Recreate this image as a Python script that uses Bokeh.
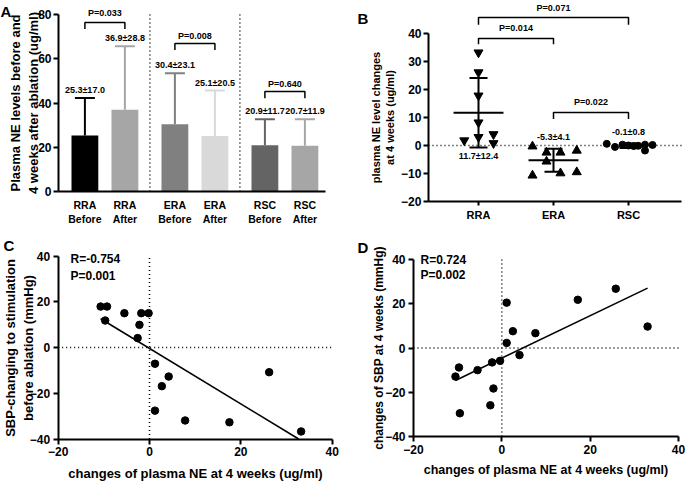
import numpy as np
from bokeh.plotting import figure
from bokeh.layouts import column, row
from bokeh.models import FixedTicker, Range1d
from bokeh.embed import file_html
from bokeh.resources import INLINE
from bokeh.core.properties import value

FONT = "Liberation Sans"

# ---------------- data ----------------
# Panel A
a_groups = ["RRA", "ERA", "RSC"]
a_phases = ["Before", "After"]
a_mean = [25.3, 36.9, 30.4, 25.1, 20.9, 20.7]
a_sd = [17.0, 28.8, 23.1, 20.5, 11.7, 11.9]
a_pvals = ["P=0.033", "P=0.008", "P=0.640"]

# Panel B
b_groups = ["RRA", "ERA", "RSC"]
b_rra = [33.2, 26.1, 17.8, 8.2, 3.0, 1.8, 4.0, 0.8]
b_era = [-0.3, -2.5, -2.5, -1.8, -5.7, -10.7, -9.9, -9.5]
b_rsc = [0.6, -0.5, 0.3, 0.0, -0.2, -0.1, 0.3, -1.8, 0.2]
b_mean = [11.7, -5.3, -0.1]
b_sd = [12.4, 4.1, 0.8]
b_pvals = ["P=0.014", "P=0.071", "P=0.022"]
b_pairs = [(0, 1), (0, 2), (1, 2)]

# Panel C
c_x = [-10.7, -9.3, -9.7, -5.5, -2.2, -1.8, -0.2, -2.6, 1.2, 1.2, 2.7, 4.2, 7.8, 17.5, 26.2, 33.2]
c_y = [17.9, 17.9, 11.8, 15.0, 9.9, 15.0, 15.0, 4.1, -7.1, -27.6, -16.9, -12.7, -31.9, -32.7, -10.8, -36.7]
c_stats = ["R=-0.754", "P=0.001"]

# Panel D
d_x = [-10.5, -9.7, -9.5, -5.5, -2.2, -1.9, -2.6, -0.4, 1.1, 1.1, 2.5, 4.0, 7.6, 17.2, 25.8, 33.0]
d_y = [-12.9, -8.8, -29.5, -10.0, -6.5, -18.3, -25.9, -5.8, 20.5, 2.3, 7.6, -3.2, 6.7, 21.8, 26.8, 9.7]
d_stats = ["R=0.724", "P=0.002"]

# ---------------- style / layout (not data) ----------------
a_colors = ["#000000", "#a6a6a6", "#808080", "#d9d9d9", "#646464", "#a6a6a6"]
a_bracket_top = [76.4, 66.9, 45.2]
a_ptext_y = [80.6, 70.2, 48.8]
b_jitter_rra = [0, 0, 0, 0, 0, -0.19, 0.2, 0.2]
b_jitter_era = [-0.28, -0.093, 0.093, 0.31, -0.093, -0.28, 0.093, 0.31]
b_jitter_rsc = [-0.29, -0.18, -0.08, 0.0, 0.07, 0.13, 0.22, 0.22, 0.32]
b_bracket_top = [38.2, 45.7, 11.8]
b_bracket_drop = [2.0, 2.6, 2.3]
b_ptext_y = [42.0, 49.0, 15.4]
b_stat_y = [-3.6, 3.0, 4.8]
b_mean_half = [0.333, 0.333, 0.1]

TOP_H = 230
BOT_H = 251


class Geo:
    def __init__(self, w, h, x0px, xppu, y0px, yppu):
        self.w, self.h = w, h
        self.x0, self.xp, self.y0, self.yp = x0px, xppu, y0px, yppu

    def xr(self):
        return ((0 - self.x0) / self.xp, (self.w - self.x0) / self.xp)

    def yr(self):
        return ((self.y0 - self.h) / self.yp, self.y0 / self.yp)

    def pt(self, fx, fy):
        return (fx - self.x0) / self.xp, (self.y0 - fy) / self.yp


def make_fig(geo):
    p = figure(width=geo.w, height=geo.h, x_range=Range1d(*geo.xr()),
               y_range=Range1d(*geo.yr()), output_backend="svg", toolbar_location=None,
               min_border=0, min_border_left=0, min_border_right=0,
               min_border_top=0, min_border_bottom=0)
    p.outline_line_color = None
    p.xgrid.visible = False
    p.ygrid.visible = False
    p.background_fill_color = "white"
    p.border_fill_color = "white"
    for ax in p.axis:
        ax.axis_line_width = 2
        ax.axis_line_color = "black"
        ax.major_tick_line_width = 2
        ax.major_tick_line_color = "black"
        ax.major_tick_out = 5
        ax.major_tick_in = 0
        ax.minor_tick_line_color = None
        ax.major_label_text_font = FONT
        ax.major_label_text_font_style = "bold"
        ax.major_label_text_font_size = "12px"
        ax.major_label_text_color = "black"
        ax.axis_label_text_font = FONT
        ax.axis_label_text_font_style = "bold"
        ax.axis_label_text_font_size = "13px"
        ax.axis_label_text_color = "black"
        ax.major_label_standoff = 3
        ax.axis_label_standoff = 4
    return p


def btext(p, x, y, t, size="9px", align="center", baseline="middle"):
    p.text(x=x, y=y, text=t, text_font=value(FONT), text_font_style="bold",
           text_font_size=size, text_align=align, text_baseline=baseline,
           text_color="black")


def letter(p, geo, txt, fx, fy):
    x, y = geo.pt(fx, fy)
    btext(p, [x], [y], [txt], size="15px", align="left", baseline="alphabetic")


# ---------------- Panel A ----------------
gA = Geo(340, TOP_H, 58, 40.0, 191, 2.2125)
pA = make_fig(gA)
xs = []
labels = {}
for g, grp in enumerate(a_groups):
    for k, ph in enumerate(a_phases):
        x = round(1.16 + 2.25 * g + (k - 0.5) * 1.0, 3)
        xs.append(x)
        labels[x] = grp + "\n" + ph
tops = [m + s for m, s in zip(a_mean, a_sd)]
pA.vbar(x=xs, bottom=0, top=a_mean, width=0.67, fill_color=a_colors, line_color=None)
pA.segment(x0=xs, y0=a_mean, x1=xs, y1=tops, line_color=a_colors, line_width=2)
pA.segment(x0=[x - 0.25 for x in xs], y0=tops, x1=[x + 0.25 for x in xs], y1=tops,
           line_color=a_colors, line_width=2)
btext(pA, xs, [t + 3.6 for t in tops],
      [f"{m:.1f}±{s:.1f}" for m, s in zip(a_mean, a_sd)])
for g in range(3):
    x0, x1 = xs[2 * g], xs[2 * g + 1]
    t = a_bracket_top[g]
    pA.line([x0, x0, x1, x1], [t - 3, t, t, t - 3], line_color="black", line_width=1.5)
    btext(pA, [(x0 + x1) / 2], [a_ptext_y[g]], [a_pvals[g]])
seps = [round(1.16 + 2.25 * g + 1.125, 3) for g in range(2)]
pA.segment(x0=seps, y0=[0, 0], x1=seps, y1=[80, 80], line_color="black",
           line_width=1.5, line_dash="1 3")
pA.yaxis.fixed_location = 0
pA.yaxis.bounds = (0, 80)
pA.yaxis.ticker = FixedTicker(ticks=[0, 20, 40, 60, 80])
pA.yaxis.axis_label = "Plasma NE levels before and\n4 weeks after ablation (ug/ml)"
pA.yaxis.axis_label_text_font_size = "13px"
pA.yaxis.axis_label_standoff = -6
pA.yaxis.major_label_standoff = 2
pA.xaxis.fixed_location = 0
pA.xaxis.bounds = (0, 6.675)
pA.xaxis.ticker = FixedTicker(ticks=xs)
pA.xaxis.major_label_overrides = labels
pA.xaxis.major_tick_out = 0
pA.xaxis.major_label_text_font_size = "10.5px"
pA.xaxis.major_label_standoff = 7
letter(pA, gA, "A", 0, 11)

# ---------------- Panel B ----------------
gB = Geo(345, TOP_H, 138, 75.0, 145, 2.8)
pB = make_fig(gB)
pB.segment(x0=[-0.667], y0=[0], x1=[2.707], y1=[0], line_color="black",
           line_width=1.5, line_dash="1 3")
for gi in range(3):
    m, s, hw = b_mean[gi], b_sd[gi], b_mean_half[gi]
    pB.segment(x0=[gi - hw], y0=[m], x1=[gi + hw], y1=[m], line_color="black", line_width=2)
    pB.segment(x0=[gi], y0=[m - s], x1=[gi], y1=[m + s], line_color="black", line_width=2)
    pB.segment(x0=[gi - 0.12, gi - 0.12], y0=[m - s, m + s], x1=[gi + 0.12, gi + 0.12],
               y1=[m - s, m + s], line_color="black", line_width=2)
pB.scatter([0 + j for j in b_jitter_rra], b_rra, marker="inverted_triangle", size=9,
           color="black")
pB.scatter([1 + j for j in b_jitter_era], b_era, marker="triangle", size=9, color="black")
pB.scatter([2 + j for j in b_jitter_rsc], b_rsc, marker="circle", size=7, color="black")
btext(pB, [0, 1, 2], b_stat_y, [f"{m:.1f}±{s:.1f}" for m, s in zip(b_mean, b_sd)])
for (i0, i1), t, d, ty, pv in zip(b_pairs, b_bracket_top, b_bracket_drop, b_ptext_y, b_pvals):
    pB.line([i0, i0, i1, i1], [t - d, t, t, t - d], line_color="black", line_width=1.5)
    btext(pB, [(i0 + i1) / 2], [ty], [pv])
pB.yaxis.fixed_location = -0.667
pB.yaxis.bounds = (-20, 40)
pB.yaxis.ticker = FixedTicker(ticks=[-20, -10, 0, 10, 20, 30, 40])
pB.yaxis.axis_label = "plasma NE level changes\nat 4 weeks (ug/ml)"
pB.yaxis.axis_label_text_font_size = "11px"
pB.yaxis.axis_label_standoff = 2
pB.yaxis.major_label_standoff = 2
pB.xaxis.fixed_location = -20
pB.xaxis.bounds = (-0.667, 2.707)
pB.xaxis.ticker = FixedTicker(ticks=[0, 1, 2])
pB.xaxis.major_label_overrides = {i: g for i, g in enumerate(b_groups)}
pB.xaxis.major_tick_out = 4
pB.xaxis.major_label_text_font_size = "11px"
pB.xaxis.major_label_standoff = 3
letter(pB, gB, "B", 17, 18)


# ---------------- Panels C & D ----------------
def scatter_panel(geo, xv, yv, stats, stat_px, ylab, ylab_size, ylab_standoff, xlab_size):
    p = make_fig(geo)
    p.segment(x0=[0, -20], y0=[-40, 0], x1=[0, 40], y1=[40, 0], line_color="black",
              line_width=1.5, line_dash="1 3")
    k, b0 = np.polyfit(xv, yv, 1)
    xa = min(xv)
    xb = max(xv)
    if k * xb + b0 < -40:
        xb = (-40 - b0) / k
    lx = np.array([xa, xb])
    p.line(lx, k * lx + b0, line_color="black", line_width=1.6)
    p.scatter(xv, yv, marker="circle", size=7.5, color="black")
    sx, sy1 = geo.pt(stat_px[0], stat_px[1])
    _, sy2 = geo.pt(stat_px[0], stat_px[2])
    btext(p, [sx, sx], [sy1, sy2], stats, size="12px", align="left")
    p.yaxis.fixed_location = -20
    p.yaxis.bounds = (-40, 40)
    p.yaxis.ticker = FixedTicker(ticks=[-40, -20, 0, 20, 40])
    p.yaxis.axis_label = ylab
    p.yaxis.axis_label_text_font_size = ylab_size
    p.yaxis.axis_label_standoff = ylab_standoff
    p.xaxis.fixed_location = -40
    p.xaxis.bounds = (-20, 40)
    p.xaxis.ticker = FixedTicker(ticks=[-20, 0, 20, 40])
    p.xaxis.axis_label = "changes of plasma NE at 4 weeks (ug/ml)"
    p.xaxis.axis_label_text_font_size = xlab_size
    p.xaxis.axis_label_standoff = 6
    return p


gC = Geo(340, BOT_H, 149, 4.567, 347 - TOP_H, 2.2875)
pC = scatter_panel(gC, c_x, c_y, c_stats, (70, 258 - TOP_H, 275 - TOP_H),
                   "SBP-changing to stimulation\nbefore ablation (mmHg)", "13px", -9, "13px")
letter(pC, gC, "C", 3, 245 - TOP_H)
gD = Geo(345, BOT_H, 161.33, 4.4167, 347.5 - TOP_H, 2.2125)
pD = scatter_panel(gD, d_x, d_y, d_stats, (80, 259.5 - TOP_H, 274.3 - TOP_H),
                   "changes of SBP at 4 weeks (mmHg)", "12px", -4, "12.5px")
letter(pD, gD, "D", 17, 247 - TOP_H)

layout = column(row(pA, pB, spacing=0), row(pC, pD, spacing=0), spacing=0)
open("out.html", "w").write(file_html(layout, INLINE))
